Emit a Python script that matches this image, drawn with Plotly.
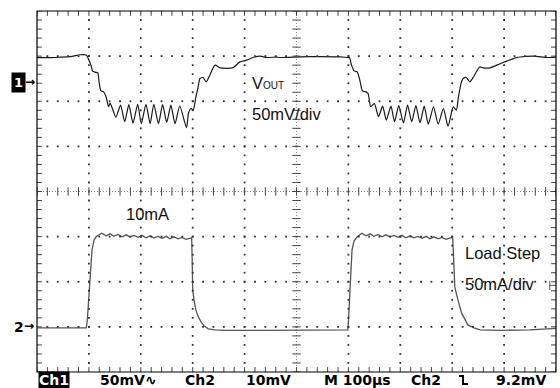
import plotly.graph_objects as go

# ---- data (time in us, Ch1 in mV relative to Ch1 marker, Ch2 in mA relative to Ch2 marker)
ch1_t = [0, 25, 44, 64, 83, 91, 96, 100, 104, 107, 112, 117, 120, 123, 128, 133, 138, 141,
         152, 161, 169, 177, 185, 194, 201, 210, 218, 225, 234, 242, 250, 258, 266, 275, 288,
         292, 297, 301, 306, 310, 314, 320, 326, 333, 343, 353, 377, 391, 404, 416, 430, 443,
         462, 468, 507, 545, 584, 599,
         602, 606, 611, 617, 622, 627, 634, 638, 643,
         650, 658, 666, 673, 682, 689, 697, 706, 714, 722, 730, 738, 746, 754, 764, 773, 783,
         792, 802, 808, 812, 817, 821, 827, 834, 841, 853, 860, 873, 886, 906, 918, 931, 957,
         983, 1000]
ch1_v = [28.3, 28.3, 28.8, 29.4, 31.5, 31.6, 30.5, 25.5, 20.0, 13.3, 12.2, 11.6, 0.0, -8.3,
         -9.4, -15.0, -26.0, -22.0,
         -37.5, -24.4, -42.7, -23.8, -44.3, -23.3, -44.9, -23.3, -44.9, -23.3, -44.9, -23.8,
         -43.2, -24.4, -44.9, -25.0, -49.3,
         -33.0, -28.0, -30.0, -15.5, -5.5, 5.2, 6.3, 1.5, 8.9, 20.0, 17.0, 17.0, 23.6, 25.5,
         28.5, 30.0, 28.5, 29.0, 28.5, 29.2, 29.5, 29.2, 28.5,
         28.5, 20.0, 13.7, 12.6, 3.3, -8.5, -9.6, -11.4, -26.0,
         -22.5, -37.0, -25.5, -40.9, -25.5, -42.8, -24.8, -43.9, -24.4, -42.8, -24.8, -43.9,
         -25.5, -45.3, -26.2, -45.3, -28.1,
         -47.5, -26.2, -29.9, -15.1, -0.4, 5.2, 6.3, 1.5, 7.0, 18.0, 17.0, 17.0, 20.0, 24.7,
         27.3, 29.0, 29.9, 28.5, 29.0]

ch2_t = [0, 44, 95, 97, 100, 103, 106, 110, 114, 118, 125, 133, 141, 148, 156, 164, 172, 179,
         187, 195, 202, 210, 218, 225, 233, 241, 249, 256, 264, 272, 279, 287, 295, 298,
         299, 300, 302.5, 306, 310, 316, 322, 330, 343, 362, 430, 507, 565, 599,
         600, 602, 604, 607, 611, 617, 622, 626, 634, 642, 649, 657, 665, 672, 680, 688, 696,
         703, 711, 719, 726, 734, 742, 750, 757, 765, 773, 780, 788, 796, 801,
         802.5, 805, 811, 818, 825, 830, 842, 854, 892, 950, 1000]
ch2_i = [-1.1, -1.1, -1.1, 7.8, 35.5, 63.2, 85.4, 96.5, 99.8, 101.5, 103.7, 100.9, 103.1,
         100.3, 102.5, 99.8, 102.0, 99.8, 101.4, 99.2, 101.4, 98.7, 100.9, 98.7, 100.3, 98.1,
         100.3, 97.6, 99.8, 97.6, 99.2, 97.0, 98.7, 98.7,
         74.3, 41.0, 29.9, 18.8, 12.2, 5.5, 1.1, -2.2, -3.3, -3.9, -3.9, -3.3, -3.3, -3.3,
         5.5, 30.0, 57.6, 85.4, 95.3, 99.8, 102.0, 103.7, 100.9, 103.1, 100.3, 102.5, 99.8,
         102.0, 99.8, 101.4, 99.2, 101.4, 98.7, 100.9, 98.7, 100.3, 98.1, 100.3, 97.6, 99.8,
         97.6, 99.2, 97.0, 98.7, 98.7,
         74.3, 44.3, 29.9, 15.5, 7.8, 2.2, -1.1, -3.3, -3.9, -3.3, -1.7]

trigger_level_ma = 46  # 9.2 mV on Ch2

status_texts = ["50mV\u223f", "Ch2", "10mV", "M 100\u00b5s", "Ch2", "9.2mV"]
status_x_px = [128, 200, 268, 357, 426, 521]

W, H = 560, 388
L, R, T, B = 37, 4, 11, 16
pw, ph = W - L - R, H - T - B

def px_x(p):
    return (p - L) / pw

def px_y(p):
    return 1 - (p - T) / ph

fig = go.Figure()

# ---- graticule (in divisions on x2/y3 helper axes)
gx, gy = [], []
for k in range(1, 10):
    if k == 5:
        continue
    for j in range(1, 40):
        gx.append(k)
        gy.append(-4 + 0.2 * j)
for k in range(-3, 4):
    if k == 0:
        continue
    for j in range(1, 50):
        gx.append(0.2 * j)
        gy.append(k)
fig.add_trace(go.Scatter(x=gx, y=gy, mode="markers", xaxis="x2", yaxis="y3",
                         marker=dict(symbol="square", size=1.8, color="#333"),
                         hoverinfo="skip", showlegend=False))
fig.add_trace(go.Scatter(x=[0, 10], y=[0, 0], mode="lines", xaxis="x2", yaxis="y3",
                         line=dict(color="#888", width=1, dash="1px,2px"),
                         hoverinfo="skip", showlegend=False))
fig.add_trace(go.Scatter(x=[5, 5], y=[-4, 4], mode="lines", xaxis="x2", yaxis="y3",
                         line=dict(color="#888", width=1, dash="1px,2px"),
                         hoverinfo="skip", showlegend=False))
tx = [0.2 * j for j in range(51)]
ty = [-4 + 0.2 * j for j in range(41)]
fig.add_trace(go.Scatter(x=tx, y=[0] * len(tx), mode="markers", xaxis="x2", yaxis="y3",
                         marker=dict(symbol="line-ns", size=6, line=dict(width=1, color="#444")),
                         hoverinfo="skip", showlegend=False))
fig.add_trace(go.Scatter(x=[5] * len(ty), y=ty, mode="markers", xaxis="x2", yaxis="y3",
                         marker=dict(symbol="line-ew", size=6, line=dict(width=1, color="#444")),
                         hoverinfo="skip", showlegend=False))
fig.add_trace(go.Scatter(x=tx + tx, y=[4] * len(tx) + [-4] * len(tx), mode="markers",
                         xaxis="x2", yaxis="y3",
                         marker=dict(symbol="line-ns", size=7, line=dict(width=1, color="#444")),
                         hoverinfo="skip", showlegend=False))
fig.add_trace(go.Scatter(x=[0] * len(ty) + [10] * len(ty), y=ty + ty, mode="markers",
                         xaxis="x2", yaxis="y3",
                         marker=dict(symbol="line-ew", size=7, line=dict(width=1, color="#444")),
                         hoverinfo="skip", showlegend=False))

# ---- signals
fig.add_trace(go.Scatter(x=ch2_t, y=ch2_i, mode="lines", xaxis="x", yaxis="y2",
                         line=dict(color="#555", width=1.3), showlegend=False))
fig.add_trace(go.Scatter(x=ch1_t, y=ch1_v, mode="lines", xaxis="x", yaxis="y",
                         line=dict(color="#1a1a1a", width=1.2, shape="spline", smoothing=0.6),
                         showlegend=False))

fig.add_trace(go.Scatter(x=[988, 988, None, 988, 1000],
                         y=[trigger_level_ma - 5, trigger_level_ma + 5, None,
                            trigger_level_ma, trigger_level_ma],
                         mode="lines", xaxis="x", yaxis="y2",
                         line=dict(color="#555", width=1), hoverinfo="skip", showlegend=False))

ax_common = dict(showgrid=False, zeroline=False, showticklabels=False, ticks="",
                 showline=False, fixedrange=True)

# falling-edge trigger icon in the status bar
x0, x1, x2 = px_x(459), px_x(463), px_x(468)
yt, yb = px_y(376), px_y(384)
trig_icon = dict(type="path", xref="paper", yref="paper",
                 path=f"M {x0} {yt} L {x1} {yt} L {x1} {yb} L {x2} {yb}",
                 line=dict(color="black", width=2))

fig.update_layout(
    width=W, height=H, margin=dict(l=L, r=R, t=T, b=B),
    paper_bgcolor="white", plot_bgcolor="white",
    xaxis=dict(range=[0, 1000], **ax_common),
    xaxis2=dict(range=[0, 10], overlaying="x", **ax_common),
    yaxis=dict(range=[-320, 80], **ax_common),
    yaxis2=dict(range=[-50, 350], overlaying="y", **ax_common),
    yaxis3=dict(range=[-4, 4], overlaying="y", **ax_common),
    showlegend=False,
    shapes=[dict(type="rect", xref="paper", yref="paper", x0=0, x1=1, y0=0, y1=1,
                 line=dict(color="black", width=1.2)), trig_icon],
)

lab_font = dict(family="Liberation Sans, Arial", size=16.5, color="#111")
anns = [
    dict(text="V<span style='font-size:10px'>OUT</span>", x=4.1, y=2.40),
    dict(text="50mV/div", x=4.1, y=1.71),
    dict(text="10mA", x=1.676, y=-0.50),
    dict(text="Load Step", x=8.2, y=-1.37),
    dict(text="50mA/div", x=8.2, y=-2.06),
]
for a in anns:
    fig.add_annotation(xref="x2", yref="y3", xanchor="left", yanchor="middle",
                       showarrow=False, font=lab_font, **a)

fig.add_annotation(text="<b>1</b>", xref="paper", yref="y3", x=px_x(18.5), y=2.415,
                   xanchor="center", yanchor="middle", showarrow=False, bgcolor="black",
                   borderpad=2, font=dict(family="DejaVu Sans", size=13, color="white"))
fig.add_annotation(text="<b>\u2192</b>", xref="paper", yref="y3", x=px_x(30), y=2.43,
                   xanchor="center", yanchor="middle", showarrow=False,
                   font=dict(family="DejaVu Sans", size=12, color="black"))
fig.add_annotation(text="<b>2</b>", xref="paper", yref="y3", x=px_x(18.5), y=-3.0,
                   xanchor="center", yanchor="middle", showarrow=False,
                   font=dict(family="DejaVu Sans", size=14, color="black"))
fig.add_annotation(text="<b>\u2192</b>", xref="paper", yref="y3", x=px_x(29), y=-2.985,
                   xanchor="center", yanchor="middle", showarrow=False,
                   font=dict(family="DejaVu Sans", size=12, color="black"))

st_font = dict(family="DejaVu Sans", size=14, color="black")
fig.add_annotation(text="<b>Ch1</b>", xref="paper", yref="paper", x=px_x(54), y=px_y(380),
                   xanchor="center", yanchor="middle", showarrow=False, bgcolor="black",
                   borderpad=0, font=dict(family="DejaVu Sans", size=14, color="white"))
for s, xp in zip(status_texts, status_x_px):
    fig.add_annotation(text="<b>" + s + "</b>", xref="paper", yref="paper", x=px_x(xp),
                       y=px_y(380), xanchor="center", yanchor="middle", showarrow=False,
                       font=st_font)

fig.write_html("out.html", config={"displayModeBar": False},
               post_script="document.body.style.margin='0';document.body.style.overflow='hidden';")
